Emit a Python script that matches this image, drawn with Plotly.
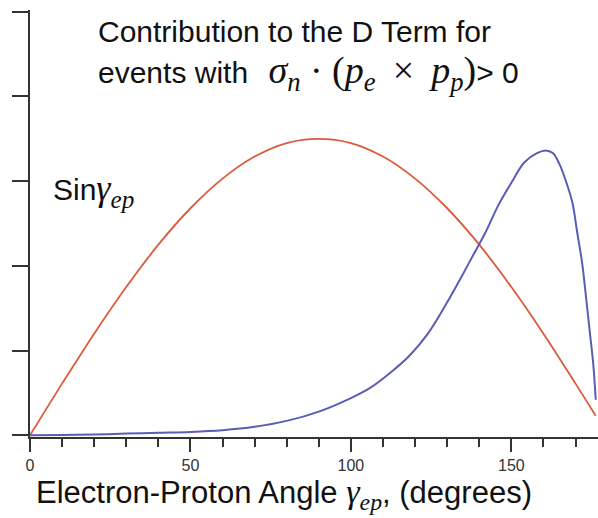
import plotly.graph_objects as go

# Data
red_angle = [0, 10, 20, 30, 40, 50, 60, 70, 80, 90, 100, 110, 120, 130, 140, 150, 160, 170, 176.3]
red_vals = [0, 0.61, 1.2, 1.75, 2.25, 2.68, 3.03, 3.29, 3.45, 3.5, 3.45, 3.29, 3.03, 2.68, 2.25, 1.75, 1.2, 0.61, 0.23]

blue_angle = [0, 10, 20, 30, 40, 50, 60, 70, 80, 90, 100, 106, 112, 118, 124, 130, 134, 138, 142,
              146, 150, 154, 158, 161, 163, 165, 167, 169, 170.5, 172, 173.5, 174.5, 175.5, 176.3]
blue_vals = [0, 0.005, 0.01, 0.02, 0.03, 0.04, 0.06, 0.1, 0.17, 0.28, 0.44, 0.56, 0.73, 0.93, 1.2,
             1.57, 1.84, 2.12, 2.4, 2.72, 2.98, 3.22, 3.33, 3.36, 3.33, 3.2, 3.0, 2.75, 2.4, 2.05,
             1.55, 1.2, 0.85, 0.42]

x_major = [0, 50, 100, 150]
x_major_text = ["0", "50", "100", "150"]
y_tickvals = [0, 1, 2, 3, 4, 5]

W, H = 598, 518
L, R, T, B = 30, 0, 10, 81
PW, PH = W - L - R, H - T - B

def px(x):
    return (x - L) / PW

def py(y):
    return (H - B - y) / PH

SERIF = "Liberation Serif"
SANS = "Liberation Sans"
AX = "#333333"

fig = go.Figure()
fig.add_trace(go.Scatter(x=red_angle, y=red_vals, mode="lines", line=dict(color="#dc5a3c", width=1.8),
                         line_shape="spline", showlegend=False))
fig.add_trace(go.Scatter(x=blue_angle, y=blue_vals, mode="lines", line=dict(color="#5a5db4", width=2),
                         line_shape="spline", showlegend=False))

fig.update_layout(
    width=W, height=H,
    margin=dict(l=L, r=R, t=T, b=B),
    paper_bgcolor="white", plot_bgcolor="white",
    font=dict(family=SANS, color="#111"),
    xaxis=dict(range=[0, 177], showgrid=False, zeroline=False, showline=True, linecolor=AX,
               linewidth=2, ticks="outside", ticklen=13, tickwidth=2, tickcolor=AX,
               tickvals=x_major, ticktext=x_major_text,
               minor=dict(dtick=10, tick0=0, ticks="outside", ticklen=8, tickwidth=2, tickcolor=AX,
                          showgrid=False),
               tickfont=dict(family="Liberation Sans Narrow, Liberation Sans", size=16, color=AX)),
    yaxis=dict(range=[-0.02, 5.02], showgrid=False, zeroline=False, showline=True, linecolor=AX,
               linewidth=2, ticks="outside", ticklen=16, tickwidth=2, tickcolor=AX,
               tickvals=y_tickvals, showticklabels=False),
)

def math(s, size):
    return f"<span style='font-family:{SERIF};font-size:{size}px'>{s}</span>"

sp = "\u2009"
fig.add_annotation(xref="paper", yref="paper", x=px(96), y=py(31), xanchor="left", yanchor="middle",
                   text="Contribution to the D Term for", showarrow=False,
                   font=dict(family=SANS, size=30, color="#111"))
fig.add_annotation(xref="paper", yref="paper", x=px(96), y=py(73), xanchor="left", yanchor="middle",
                   text=("events with " + sp + sp
                         + math("<i>σ</i><sub><i>n</i></sub> · (<i>p</i><sub><i>e</i></sub>"
                                + sp + " × " + sp + "<i>p</i><sub><i>p</i></sub>)", 38)
                         + "&gt; 0"),
                   showarrow=False, font=dict(family=SANS, size=30, color="#111"))
fig.add_annotation(xref="paper", yref="paper", x=px(51), y=py(190), xanchor="left", yanchor="middle",
                   text="Sin" + math("<i>γ</i><sub><i>ep</i></sub>", 36),
                   showarrow=False, font=dict(family=SANS, size=30, color="#111"))
fig.add_annotation(xref="paper", yref="paper", x=px(34), y=py(494), xanchor="left", yanchor="middle",
                   text=("Electron-Proton Angle " + math("<i>γ</i><sub><i>ep</i></sub>", 34)
                         + ", (degrees)"),
                   showarrow=False, font=dict(family=SANS, size=31, color="#111"))

fig.write_html("out.html")
